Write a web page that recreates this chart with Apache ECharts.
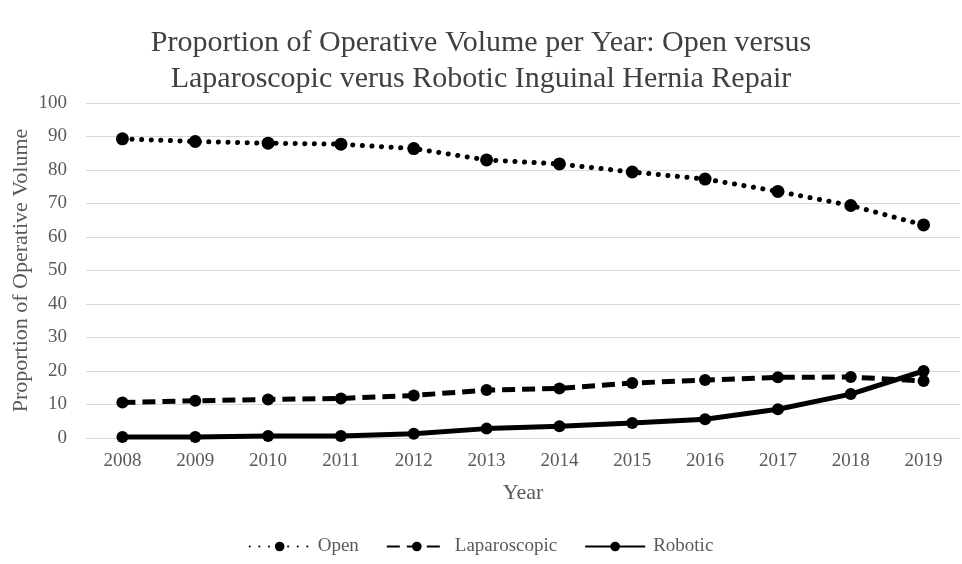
<!DOCTYPE html>
<html><head><meta charset="utf-8">
<script src="https://cdn.jsdelivr.net/npm/echarts@6/dist/echarts.min.js"></script>
<style>html,body{margin:0;padding:0;background:#fff}#c{width:962px;height:564px}</style>
</head><body><div id="c"></div>
<script>
const years = ['2008','2009','2010','2011','2012','2013','2014','2015','2016','2017','2018','2019'];
const openVals = [89.3, 88.5, 88.0, 87.7, 86.4, 83.0, 81.8, 79.4, 77.3, 73.6, 69.4, 63.6];
const lapVals = [10.6, 11.1, 11.5, 11.8, 12.7, 14.3, 14.8, 16.4, 17.3, 18.1, 18.2, 17.0];
const robVals = [0.3, 0.3, 0.6, 0.6, 1.3, 2.8, 3.5, 4.5, 5.6, 8.6, 13.1, 20.0];
const titleLines = ['Proportion of Operative Volume per Year: Open versus', 'Laparoscopic verus Robotic Inguinal Hernia Repair'];

const F = '"Liberation Serif", "DejaVu Serif", serif';
const gray = '#595959';
function ser(name, data, type, width, cap, size) {
  return {
    name, type: 'line', data,
    symbol: 'circle', symbolSize: size,
    lineStyle: { color: '#000', width: width, type: type, cap: cap },
    itemStyle: { color: '#000' },
    z: name === 'Robotic' ? 3 : 2
  };
}
const chart = echarts.init(document.getElementById('c'), null, { renderer: 'canvas' });
chart.setOption({
  animation: false,
  backgroundColor: '#fff',
  title: {
    text: titleLines.join('\n'), left: 'center', top: 20,
    textStyle: { fontFamily: F, fontSize: 30, fontWeight: 'normal', color: '#404040', lineHeight: 36 }
  },
  legend: {
    bottom: 3, left: 'center', itemWidth: 60, itemHeight: 12, itemGap: 27,
    textStyle: { fontFamily: F, fontSize: 19, color: gray, padding: [0, 0, 0, 3] },
    data: ['Open', 'Laparoscopic', 'Robotic']
  },
  grid: { left: 86, right: 2, top: 103, bottom: 126, containLabel: false, outerBoundsMode: 'none' },
  xAxis: {
    type: 'category', data: years, boundaryGap: true,
    name: 'Year', nameLocation: 'middle', nameGap: 44, nameMoveOverlap: false,
    nameTextStyle: { fontFamily: F, fontSize: 22, color: gray },
    axisLine: { show: true, lineStyle: { color: '#d9d9d9' } },
    axisTick: { show: false },
    axisLabel: { fontFamily: F, fontSize: 19, color: gray, margin: 14 }
  },
  yAxis: {
    type: 'value', min: 0, max: 100, interval: 10,
    name: 'Proportion of Operative Volume', nameLocation: 'middle', nameGap: 54, nameMoveOverlap: false,
    nameTextStyle: { fontFamily: F, fontSize: 22, color: gray },
    axisLine: { show: false }, axisTick: { show: false },
    axisLabel: { fontFamily: F, fontSize: 19, color: gray, margin: 19 },
    splitLine: { lineStyle: { color: '#d9d9d9', width: 1 } }
  },
  series: [
    ser('Open', openVals, [0.1, 9.5], 5, 'round', 13),
    ser('Laparoscopic', lapVals, [13, 7], 5, 'butt', 12),
    ser('Robotic', robVals, 'solid', 5, 'butt', 12)
  ]
});
</script></body></html>
